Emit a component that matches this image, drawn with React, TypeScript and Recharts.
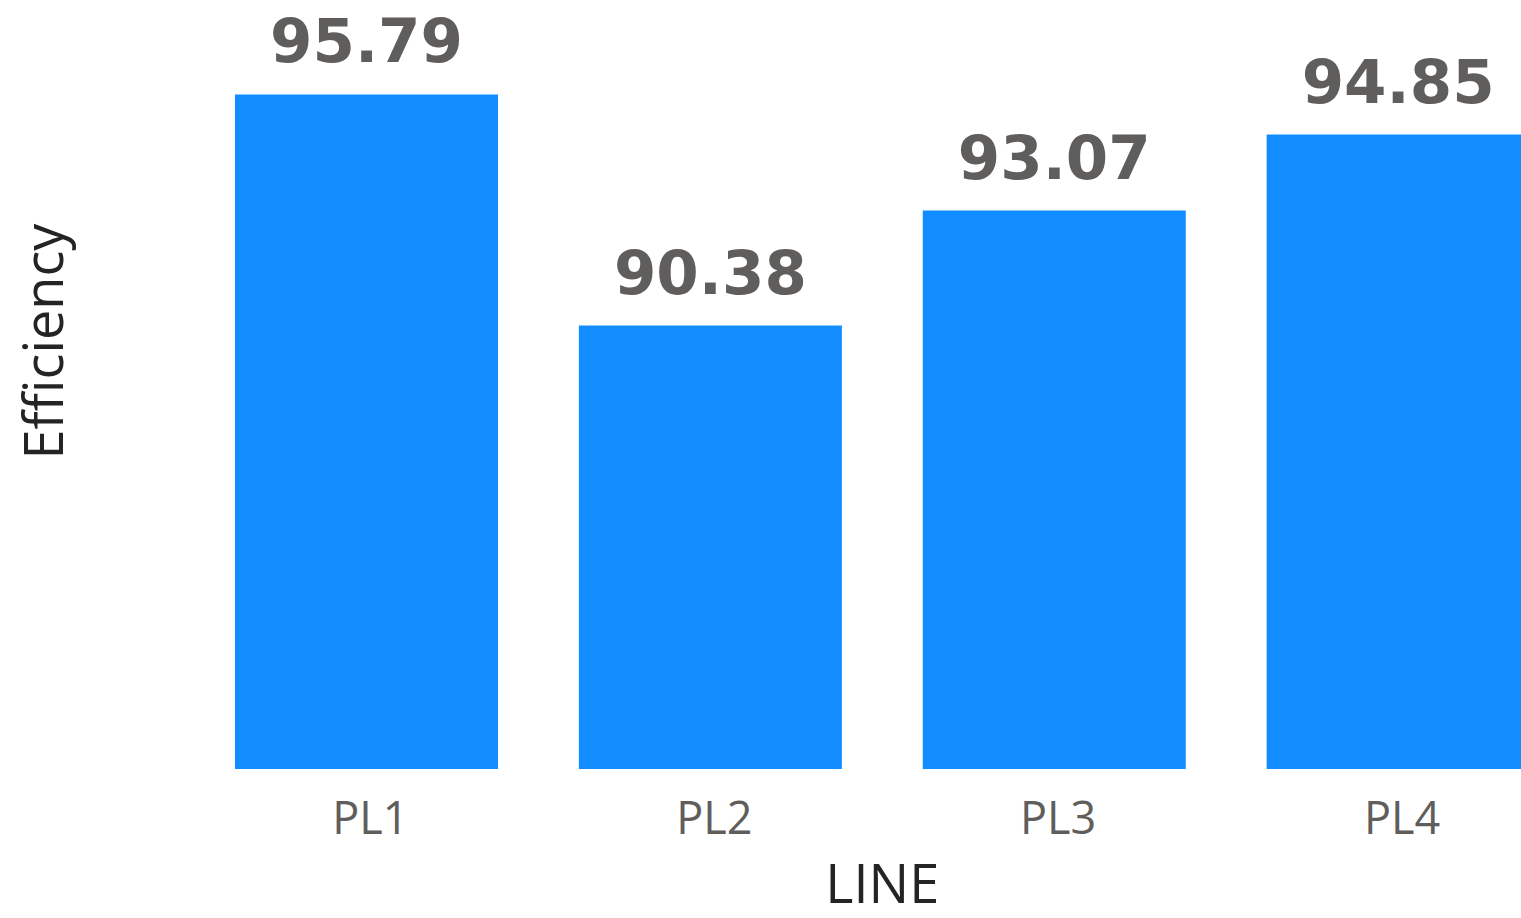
import React from 'react';
import { BarChart, Bar, XAxis, YAxis, LabelList, Label } from 'recharts';

const categories = ['PL1', 'PL2', 'PL3', 'PL4'];
const efficiency = [95.79, 90.38, 93.07, 94.85];
const yDomain = [80, 98];
const xTitle = 'LINE';
const yTitle = 'Efficiency';

const data = categories.map((line, i) => ({ line, efficiency: efficiency[i] }));

const YTitle = (props: any) => {
  const vb = props.viewBox || { x: 0, y: 0, width: 0, height: 0 };
  const x = vb.x + 63;
  const y = vb.y + vb.height / 2 - 43;
  return (
    <text
      x={x}
      y={y}
      transform={`rotate(-90, ${x}, ${y})`}
      textAnchor="middle"
      fill="#252423"
      fontSize={54}
      fontFamily="'Open Sans', sans-serif"
    >
      {yTitle}
    </text>
  );
};

export default function App() {
  return (
    <div style={{ position: 'absolute', left: 0, top: 0, width: 1521, height: 918, overflow: 'hidden', background: '#fff' }}>
      <BarChart
        width={1580}
        height={918}
        data={data}
        margin={{ top: 0, right: 10, bottom: 0, left: 0 }}
        barCategoryGap="11.78%"
      >
        <YAxis width={194.5} domain={yDomain} allowDataOverflow tick={false} axisLine={false} tickLine={false}>
          <Label content={YTitle} />
        </YAxis>
        <XAxis
          dataKey="line"
          height={149}
          axisLine={false}
          tickLine={false}
          tickMargin={27}
          interval={0}
          tick={{ fontSize: 45, fill: '#605E5C', fontFamily: "'Open Sans', sans-serif", dx: 4 }}
        >
          <Label
            value={xTitle}
            position="insideBottom"
            offset={15}
            fill="#252423"
            fontSize={54}
            fontFamily="'Open Sans', sans-serif"
          />
        </XAxis>
        <Bar dataKey="efficiency" fill="#118DFF" isAnimationActive={false}>
          <LabelList
            dataKey="efficiency"
            position="top"
            offset={32}
            fill="#605E5C"
            fontSize={61}
            fontWeight="bold"
            fontFamily="'DejaVu Sans', sans-serif"
          />
        </Bar>
      </BarChart>
    </div>
  );
}
